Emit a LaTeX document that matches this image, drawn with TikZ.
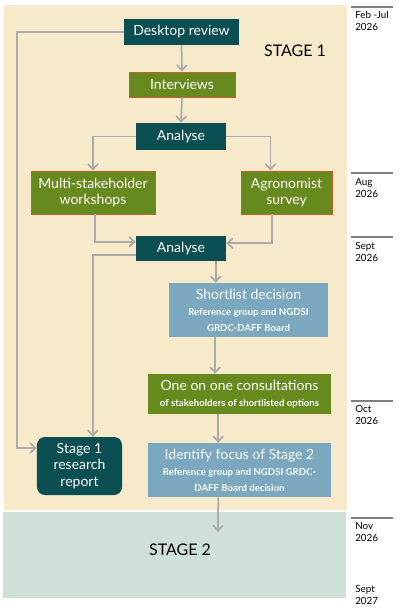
\documentclass[tikz,border=0pt]{standalone}
\usepackage{fontspec}
\setmainfont{Lato}
\usetikzlibrary{arrows.meta,positioning,calc}
\definecolor{teal1}{HTML}{0C4F52}
\definecolor{green1}{HTML}{668A1E}
\definecolor{orange1}{HTML}{C5602A}
\definecolor{blue1}{HTML}{7BA7BF}
\definecolor{beige1}{HTML}{F6EACB}
\definecolor{sage1}{HTML}{CFE1D6}
\definecolor{link1}{HTML}{ABABAB}
\definecolor{rule1}{HTML}{7F7F7F}
\newcommand{\subtxt}{\fontsize{7.2}{8.8}\selectfont\bfseries}

\begin{document}
\begin{tikzpicture}[
                    x=0.75pt, y=-0.75pt,
                    box/.style={rectangle, inner sep=1pt, align=center, text=white, font=\fontsize{10.5}{12.5}\selectfont},
                    darkbox/.style={box, fill=teal1},
                    greenbox/.style={box, fill=green1, draw=orange1, line width=0.6pt},
                    bluebox/.style={box, fill=blue1},
                    link/.style={draw=link1, line width=1.3pt, -{Straight Barb[length=4pt,width=7.5pt]}},
                    date/.style={anchor=north west, align=left, inner sep=0pt, font=\fontsize{7.4}{9}\selectfont}
                ]
                    \useasboundingbox (0,0) rectangle (402,611);
                    \fill[beige1] (4,5) rectangle (347,510);
                    \fill[sage1] (3,512) rectangle (346,598);
                    \node[font=\fontsize{12}{14}\selectfont] (st1) at (295,51) {STAGE 1};
                    \node[font=\fontsize{12}{14}\selectfont] (st2) at (180,550) {STAGE 2};

                    \node[darkbox, minimum width=86.3pt, minimum height=19.5pt] (desk) at (181.5,32) {Desktop review};
                    \node[greenbox, minimum width=79.5pt, minimum height=18.8pt] (interv) at (182,84.5) {Interviews};
                    \node[darkbox, minimum width=67.5pt, minimum height=20.3pt] (ana1) at (181,136.5) {Analyse};
                    \node[greenbox, minimum width=93pt, minimum height=32.3pt] (multi) at (93,192.5) {Multi-stakeholder\\workshops};
                    \node[greenbox, minimum width=68.3pt, minimum height=32.3pt] (agro) at (286.5,192.5) {Agronomist\\survey};
                    \node[darkbox, minimum width=67.5pt, minimum height=18.8pt] (ana2) at (181,248.5) {Analyse};
                    \node[bluebox, minimum width=119.3pt, minimum height=40.5pt] (short) at (248.5,310) {Shortlist decision\\[0pt]{\subtxt Reference group and NGDSI}\\[-1pt]{\subtxt GRDC-DAFF Board}};
                    \node[box, fill=green1, minimum width=137.3pt, minimum height=30pt] (one) at (239.5,394) {One on one consultations\\[0pt]{\subtxt of stakeholders of shortlisted options}};
                    \node[bluebox, minimum width=137.3pt, minimum height=40.5pt] (ident) at (239.5,470) {Identify focus of Stage 2\\[0pt]{\subtxt Reference group and NGDSI GRDC-}\\[-1pt]{\subtxt DAFF Board decision}};
                    \node[darkbox, rounded corners=6pt, minimum width=63.8pt, minimum height=43.5pt] (report) at (79.5,466) {Stage 1\\research\\report};
                    \coordinate (s2in) at (218,532);

                    \draw[link] (desk.west) -- (17,32) -- (17,448) -- (report.west |- 0,448);
                    \draw[link] (desk.south) -- (interv.north);
                    \draw[link] (interv.south) -- (ana1.north);
                    \draw[link] (ana1.west) -| (multi.north);
                    \draw[link] (ana1.east) -| ([xshift=-12pt]agro.north);
                    \draw[link] ([xshift=1.5pt]multi.south) |- ([yshift=5pt]ana2.west);
                    \draw[link] ([xshift=-11pt]agro.south) |- ([yshift=4pt]ana2.east);
                    \draw[link] ([yshift=-5pt]ana2.west) -| ([xshift=10pt]report.north);
                    \draw[link] ([xshift=26pt]ana2.south) -- ([xshift=26pt]ana2.south |- short.north);
                    \draw[link] ([xshift=-25pt]short.south) -- ([xshift=-25pt]short.south |- one.north);
                    \draw[link] ([xshift=-16pt]one.south) -- ([xshift=-16pt]one.south |- ident.north);
                    \draw[link] ([xshift=-16pt]ident.south) -- (s2in);

                    \foreach \y in {7, 173, 237, 401, 518}
                        \draw[rule1, line width=1pt] (351,\y) -- (393,\y);
                    \node[date] (d1) at (355,11) {Feb -Jul\\2026};
                    \node[date] (d2) at (355,178) {Aug\\2026};
                    \node[date] (d3) at (355,242) {Sept\\2026};
                    \node[date] (d4) at (355,405) {Oct\\2026};
                    \node[date] (d5) at (355,522) {Nov\\2026};
                    \node[date] (d6) at (355,585) {Sept\\2027};
                \end{tikzpicture}
\end{document}
